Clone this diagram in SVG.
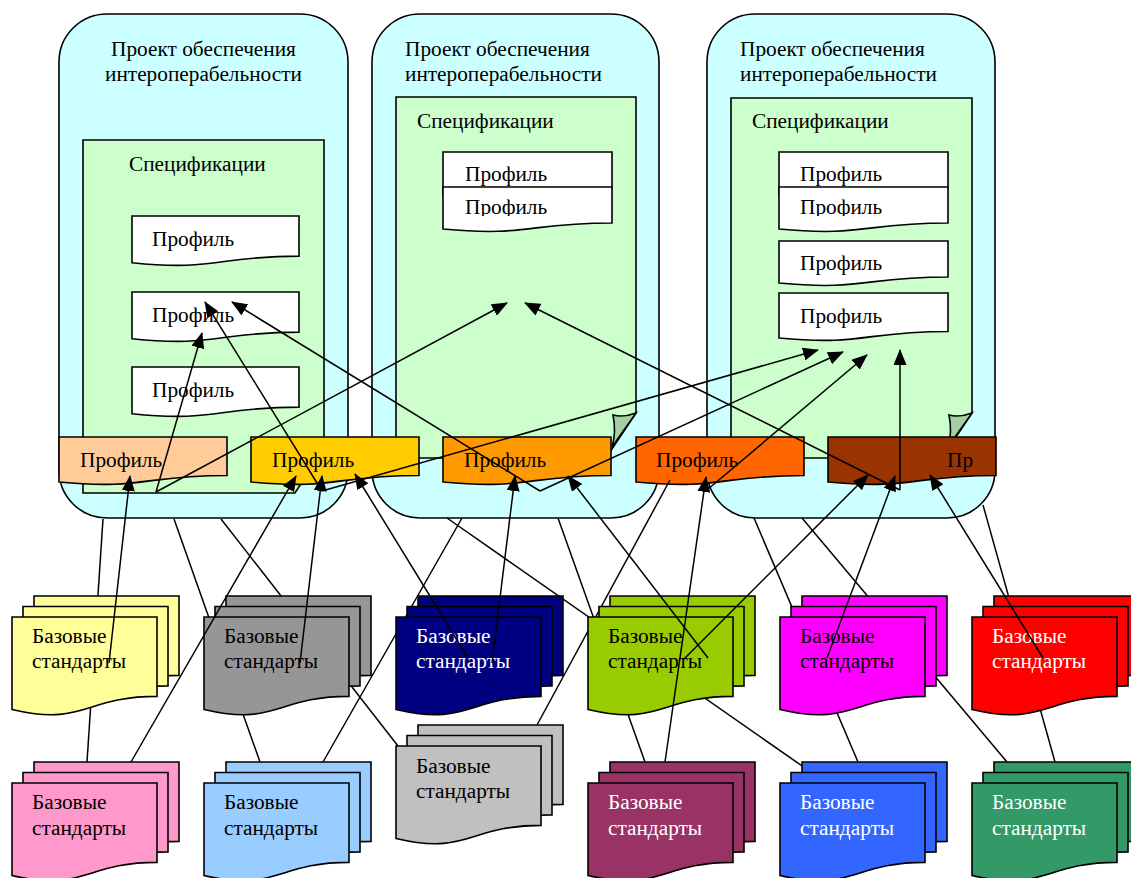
<svg xmlns="http://www.w3.org/2000/svg" xmlns:xlink="http://www.w3.org/1999/xlink" width="1131" height="878" viewBox="0 0 1131 878">
<style>
.sh{stroke:#000;stroke-width:1.6}
.t{font-family:"Liberation Serif","Times New Roman",serif;font-size:21.3px;fill:#000}
.w{fill:#fff}
.ln{stroke:#000;stroke-width:1.5;fill:none}
.ar{stroke:#000;stroke-width:1.5;fill:none;marker-end:url(#ah)}
</style>
<defs>
<marker id="ah" viewBox="0 0 16 13" refX="15" refY="6.5" markerWidth="16" markerHeight="13" markerUnits="userSpaceOnUse" orient="auto">
<path d="M0,0 L16,6.5 L0,13 Z" fill="#000"/>
</marker>
<path id="sheet" d="M0,0 H145 V79.4 C72.5,79.4 72.5,109.6 0,92.5 Z" stroke="#000" stroke-width="1.6"/>
<clipPath id="cm"><rect x="443" y="187" width="169" height="29"/></clipPath>
<clipPath id="cr"><rect x="779" y="187" width="169" height="29"/></clipPath>
</defs>
<rect width="1131" height="878" fill="#fff"/>

<g id="project1">
<rect class="sh" x="59" y="14" width="289" height="504" rx="48" fill="#CCFFFF"/>
<text class="t" x="203.5" y="56" text-anchor="middle">Проект обеспечения</text>
<text class="t" x="203.5" y="81" text-anchor="middle">интероперабельности</text>
<path class="sh" d="M83,140 H324 V448 L295,493 H83 Z" fill="#CCFFCC"/>
<text class="t" x="129" y="171">Спецификации</text>
<path class="sh" d="M132,216 H299 V256.1 C215.5,256.1 215.5,271.4 132,262.7 Z" fill="#fff"/>
<text class="t" x="152" y="246">Профиль</text>
<path class="sh" d="M132,292 H299 V332.1 C215.5,332.1 215.5,347.4 132,338.7 Z" fill="#fff"/>
<text class="t" x="152" y="322">Профиль</text>
<path class="sh" d="M132,367 H299 V407.1 C215.5,407.1 215.5,422.4 132,413.7 Z" fill="#fff"/>
<text class="t" x="152" y="397">Профиль</text>
</g>

<g id="project2">
<rect class="sh" x="372" y="14" width="287" height="504" rx="48" fill="#CCFFFF"/>
<text class="t" x="405" y="56">Проект обеспечения</text>
<text class="t" x="405" y="81">интероперабельности</text>
<path class="sh" d="M396,97 H636 V413 L606,458 H396 Z" fill="#CCFFCC"/>
<path class="sh" d="M636,413 C628,416 620,417 613,415 C615,425 615,437 612,447 Z" fill="#A3CFA3"/>
<text class="t" x="417" y="128">Спецификации</text>
<path class="sh" d="M443,152 H612 V188 C527.5,188 527.5,202 443,194 Z" fill="#fff"/>
<text class="t" x="465" y="181">Профиль</text>
<path class="sh" d="M443,187 H612 V223 C527.5,223 527.5,237 443,229 Z" fill="#fff"/>
<text class="t" x="465" y="214" clip-path="url(#cm)">Профиль</text>
</g>

<g id="project3">
<rect class="sh" x="707" y="14" width="288" height="504" rx="48" fill="#CCFFFF"/>
<text class="t" x="740" y="56">Проект обеспечения</text>
<text class="t" x="740" y="81">интероперабельности</text>
<path class="sh" d="M731,98 H972 V413 L942,458 H731 Z" fill="#CCFFCC"/>
<path class="sh" d="M972,413 C964,416 956,417 949,415 C951,425 951,437 948,447 Z" fill="#A3CFA3"/>
<text class="t" x="752" y="128">Спецификации</text>
<path class="sh" d="M779,152 H948 V188 C863.5,188 863.5,202 779,194 Z" fill="#fff"/>
<text class="t" x="800" y="181">Профиль</text>
<path class="sh" d="M779,187 H948 V223 C863.5,223 863.5,237 779,229 Z" fill="#fff"/>
<text class="t" x="800" y="214" clip-path="url(#cr)">Профиль</text>
<path class="sh" d="M779,241 H948 V277 C863.5,277 863.5,291 779,283 Z" fill="#fff"/>
<text class="t" x="800" y="270">Профиль</text>
<path class="sh" d="M779,293 H948 V331.5 C863.5,331.5 863.5,346 779,338 Z" fill="#fff"/>
<text class="t" x="800" y="323">Профиль</text>
</g>

<g id="bar1"><path class="sh" d="M59,437 H227 V475.5 C143,475.5 143,490 59,482 Z" fill="#FFCC99"/><text class="t" x="80" y="467">Профиль</text></g>
<g id="bar2"><path class="sh" d="M251,437 H419 V475.5 C335,475.5 335,490 251,482 Z" fill="#FFCC00"/><text class="t" x="272" y="467">Профиль</text></g>
<g id="bar3"><path class="sh" d="M443,437 H611 V475.5 C527,475.5 527,490 443,482 Z" fill="#FF9900"/><text class="t" x="464" y="467">Профиль</text></g>
<g id="bar4"><path class="sh" d="M636,437 H804 V475.5 C720,475.5 720,490 636,482 Z" fill="#FF6600"/><text class="t" x="656" y="467">Профиль</text></g>
<g id="bar5"><path class="sh" d="M828,437 H996 V475.5 C912,475.5 912,490 828,482 Z" fill="#993300"/><text class="t" x="947" y="467">Пр</text></g>

<g id="links">
<line class="ln" x1="103" y1="519" x2="87" y2="762"/>
<line class="ln" x1="174" y1="519" x2="260" y2="762"/>
<line class="ln" x1="221" y1="519" x2="398" y2="746"/>
<line class="ln" x1="462" y1="518" x2="323" y2="762"/>
<line class="ln" x1="447" y1="518" x2="805" y2="768"/>
<line class="ln" x1="558" y1="518" x2="645" y2="762"/>
<line class="ln" x1="670" y1="480" x2="537" y2="725"/>
<line class="ln" x1="754" y1="518" x2="858" y2="762"/>
<line class="ln" x1="802" y1="518" x2="1007" y2="762"/>
<line class="ln" x1="983" y1="505" x2="1055" y2="762"/>
</g>

<g id="std1" transform="translate(12,617)" fill="#FFFF99"><use href="#sheet" x="22" y="-21"/><use href="#sheet" x="11" y="-10.5"/><use href="#sheet"/><text class="t" x="20" y="26">Базовые</text><text class="t" x="20" y="51">стандарты</text></g>
<g id="std2" transform="translate(204,617)" fill="#969696"><use href="#sheet" x="22" y="-21"/><use href="#sheet" x="11" y="-10.5"/><use href="#sheet"/><text class="t" x="20" y="26">Базовые</text><text class="t" x="20" y="51">стандарты</text></g>
<g id="std3" transform="translate(396,617)" fill="#000080"><use href="#sheet" x="22" y="-21"/><use href="#sheet" x="11" y="-10.5"/><use href="#sheet"/><text class="t w" x="20" y="26">Базовые</text><text class="t w" x="20" y="51">стандарты</text></g>
<g id="std4" transform="translate(588,617)" fill="#99CC00"><use href="#sheet" x="22" y="-21"/><use href="#sheet" x="11" y="-10.5"/><use href="#sheet"/><text class="t" x="20" y="26">Базовые</text><text class="t" x="20" y="51">стандарты</text></g>
<g id="std5" transform="translate(780,617)" fill="#FF00FF"><use href="#sheet" x="22" y="-21"/><use href="#sheet" x="11" y="-10.5"/><use href="#sheet"/><text class="t" x="20" y="26">Базовые</text><text class="t" x="20" y="51">стандарты</text></g>
<g id="std6" transform="translate(972,617)" fill="#FF0000"><use href="#sheet" x="22" y="-21"/><use href="#sheet" x="11" y="-10.5"/><use href="#sheet"/><text class="t w" x="20" y="26">Базовые</text><text class="t w" x="20" y="51">стандарты</text></g>
<g id="std7" transform="translate(12,783)" fill="#FF99CC"><use href="#sheet" x="22" y="-21"/><use href="#sheet" x="11" y="-10.5"/><use href="#sheet"/><text class="t" x="20" y="26">Базовые</text><text class="t" x="20" y="52">стандарты</text></g>
<g id="std8" transform="translate(204,783)" fill="#99CCFF"><use href="#sheet" x="22" y="-21"/><use href="#sheet" x="11" y="-10.5"/><use href="#sheet"/><text class="t" x="20" y="26">Базовые</text><text class="t" x="20" y="52">стандарты</text></g>
<g id="std9" transform="translate(396,746)" fill="#C0C0C0"><use href="#sheet" x="22" y="-21"/><use href="#sheet" x="11" y="-10.5"/><use href="#sheet"/><text class="t" x="20" y="27">Базовые</text><text class="t" x="20" y="52">стандарты</text></g>
<g id="std10" transform="translate(588,783)" fill="#993366"><use href="#sheet" x="22" y="-21"/><use href="#sheet" x="11" y="-10.5"/><use href="#sheet"/><text class="t w" x="20" y="26">Базовые</text><text class="t w" x="20" y="52">стандарты</text></g>
<g id="std11" transform="translate(780,783)" fill="#3366FF"><use href="#sheet" x="22" y="-21"/><use href="#sheet" x="11" y="-10.5"/><use href="#sheet"/><text class="t w" x="20" y="26">Базовые</text><text class="t w" x="20" y="52">стандарты</text></g>
<g id="std12" transform="translate(972,783)" fill="#339966"><use href="#sheet" x="22" y="-21"/><use href="#sheet" x="11" y="-10.5"/><use href="#sheet"/><text class="t w" x="20" y="26">Базовые</text><text class="t w" x="20" y="52">стандарты</text></g>

<g id="arrows">
<line class="ar" x1="109" y1="663" x2="130" y2="476"/>
<line class="ar" x1="131" y1="762" x2="296" y2="476"/>
<line class="ar" x1="300" y1="663" x2="322" y2="476"/>
<line class="ar" x1="468" y1="658" x2="355" y2="474"/>
<line class="ar" x1="492" y1="663" x2="515" y2="476"/>
<line class="ar" x1="708" y1="658" x2="568" y2="476"/>
<line class="ar" x1="665" y1="762" x2="706" y2="477"/>
<line class="ar" x1="683" y1="660" x2="868" y2="475"/>
<line class="ar" x1="827" y1="658" x2="895" y2="476"/>
<line class="ar" x1="1043" y1="658" x2="930" y2="475"/>
<line class="ar" x1="156" y1="492" x2="202" y2="333"/>
<line class="ar" x1="156" y1="492" x2="507" y2="303"/>
<line class="ar" x1="322" y1="491" x2="205" y2="302"/>
<line class="ar" x1="322" y1="491" x2="818" y2="350"/>
<line class="ar" x1="540" y1="491" x2="232" y2="302"/>
<line class="ar" x1="540" y1="491" x2="843" y2="352"/>
<line class="ar" x1="900" y1="490" x2="525" y2="303"/>
<line class="ar" x1="900" y1="490" x2="900" y2="350"/>
<line class="ar" x1="707" y1="490" x2="867" y2="355"/>
</g>
</svg>
